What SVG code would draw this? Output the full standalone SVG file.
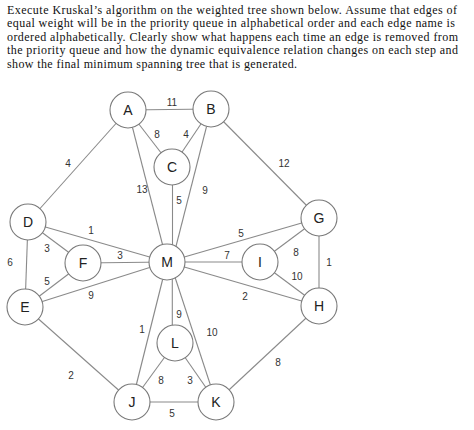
<svg xmlns="http://www.w3.org/2000/svg" width="474" height="430" viewBox="0 0 474 430">
<style>
.q{font-family:"Liberation Serif","Times New Roman",serif;font-size:12px;fill:#111}
.e{stroke:#8a8a8a;stroke-width:1.1;fill:none}
.n circle{fill:#fff;stroke:#7a7a7a;stroke-width:1.1}
.n text{font-family:"Liberation Sans",Arial,sans-serif;font-size:14px;fill:#222;text-anchor:middle;dominant-baseline:central}
.w{font-family:"Liberation Sans",Arial,sans-serif;font-size:10px;fill:#333;text-anchor:middle;dominant-baseline:central}
</style>
<rect width="474" height="430" fill="#fff"/>
<g id="question">
<text class="q"><tspan x="7" y="14" textLength="450" lengthAdjust="spacing">Execute Kruskal’s algorithm on the weighted tree shown below. Assume that edges of</tspan><tspan x="7" y="27.4" textLength="448" lengthAdjust="spacing">equal weight will be in the priority queue in alphabetical order and each edge name is</tspan><tspan x="7" y="40.8" textLength="451" lengthAdjust="spacing">ordered alphabetically. Clearly show what happens each time an edge is removed from</tspan><tspan x="7" y="54.2" textLength="451" lengthAdjust="spacing">the priority queue and how the dynamic equivalence relation changes on each step and</tspan><tspan x="7" y="67.6" textLength="290" lengthAdjust="spacing">show the final minimum spanning tree that is generated.</tspan></text>
</g>
<g id="connectors">
<line class="e" x1="128" y1="110" x2="211" y2="109"/>
<line class="e" x1="128" y1="110" x2="172" y2="167"/>
<line class="e" x1="211" y1="109" x2="172" y2="167"/>
<line class="e" x1="128" y1="110" x2="167" y2="262"/>
<line class="e" x1="172.5" y1="167" x2="172.5" y2="262"/>
<line class="e" x1="211" y1="109" x2="172" y2="262"/>
<line class="e" x1="128" y1="110" x2="28" y2="222"/>
<line class="e" x1="211" y1="109" x2="319" y2="218"/>
<line class="e" x1="28" y1="222" x2="167" y2="262"/>
<line class="e" x1="28" y1="222" x2="83" y2="263"/>
<line class="e" x1="83" y1="263" x2="167" y2="262"/>
<line class="e" x1="28" y1="222" x2="25" y2="307"/>
<line class="e" x1="25" y1="307" x2="83" y2="263"/>
<line class="e" x1="25" y1="307" x2="167" y2="262"/>
<line class="e" x1="167" y1="262" x2="319" y2="218"/>
<line class="e" x1="167" y1="262" x2="260" y2="262"/>
<line class="e" x1="167" y1="262" x2="319" y2="306"/>
<line class="e" x1="260" y1="262" x2="319" y2="218"/>
<line class="e" x1="260" y1="262" x2="319" y2="306"/>
<line class="e" x1="319" y1="218" x2="319" y2="306"/>
<line class="e" x1="172.3" y1="262" x2="172.3" y2="344"/>
<line class="e" x1="167" y1="262" x2="132" y2="402"/>
<line class="e" x1="170" y1="262" x2="216" y2="402"/>
<line class="e" x1="132" y1="402" x2="175" y2="343"/>
<line class="e" x1="175" y1="343" x2="216" y2="402"/>
<line class="e" x1="132" y1="402" x2="216" y2="402"/>
<line class="e" x1="25" y1="307" x2="132" y2="402"/>
<line class="e" x1="319" y1="306" x2="216" y2="402"/>
</g>
<g id="weights">
<text class="w" x="172" y="102">11</text>
<text class="w" x="157" y="134">8</text>
<text class="w" x="186" y="134">4</text>
<text class="w" x="142" y="189">13</text>
<text class="w" x="179" y="200">5</text>
<text class="w" x="205" y="190">9</text>
<text class="w" x="68" y="163">4</text>
<text class="w" x="284" y="163">12</text>
<text class="w" x="91" y="230">1</text>
<text class="w" x="47" y="248">3</text>
<text class="w" x="120" y="255">3</text>
<text class="w" x="10" y="262">6</text>
<text class="w" x="47" y="281">5</text>
<text class="w" x="91" y="295">9</text>
<text class="w" x="241" y="233">5</text>
<text class="w" x="227" y="255">7</text>
<text class="w" x="245" y="296">2</text>
<text class="w" x="296" y="252">8</text>
<text class="w" x="297" y="276">10</text>
<text class="w" x="329" y="262">1</text>
<text class="w" x="179" y="314">9</text>
<text class="w" x="142" y="329">1</text>
<text class="w" x="212" y="332">10</text>
<text class="w" x="161" y="380">8</text>
<text class="w" x="190" y="380">3</text>
<text class="w" x="172" y="413">5</text>
<text class="w" x="71" y="375">2</text>
<text class="w" x="278" y="362">8</text>
</g>
<g id="node-A" class="n"><circle cx="128" cy="110" r="18"/><text x="128" y="110">A</text></g>
<g id="node-B" class="n"><circle cx="211" cy="109" r="18"/><text x="211" y="109">B</text></g>
<g id="node-C" class="n"><circle cx="172" cy="167" r="18"/><text x="172" y="167">C</text></g>
<g id="node-D" class="n"><circle cx="28" cy="222" r="18"/><text x="28" y="222">D</text></g>
<g id="node-G" class="n"><circle cx="319" cy="218" r="18"/><text x="319" y="218">G</text></g>
<g id="node-F" class="n"><circle cx="83" cy="263" r="18"/><text x="83" y="263">F</text></g>
<g id="node-M" class="n"><circle cx="167" cy="262" r="18"/><text x="167" y="262">M</text></g>
<g id="node-I" class="n"><circle cx="260" cy="262" r="18"/><text x="260" y="262">I</text></g>
<g id="node-E" class="n"><circle cx="25" cy="307" r="18"/><text x="25" y="307">E</text></g>
<g id="node-H" class="n"><circle cx="319" cy="306" r="18"/><text x="319" y="306">H</text></g>
<g id="node-L" class="n"><circle cx="175" cy="343" r="18"/><text x="175" y="343">L</text></g>
<g id="node-J" class="n"><circle cx="132" cy="402" r="18"/><text x="132" y="402">J</text></g>
<g id="node-K" class="n"><circle cx="216" cy="402" r="18"/><text x="216" y="402">K</text></g>
</svg>
